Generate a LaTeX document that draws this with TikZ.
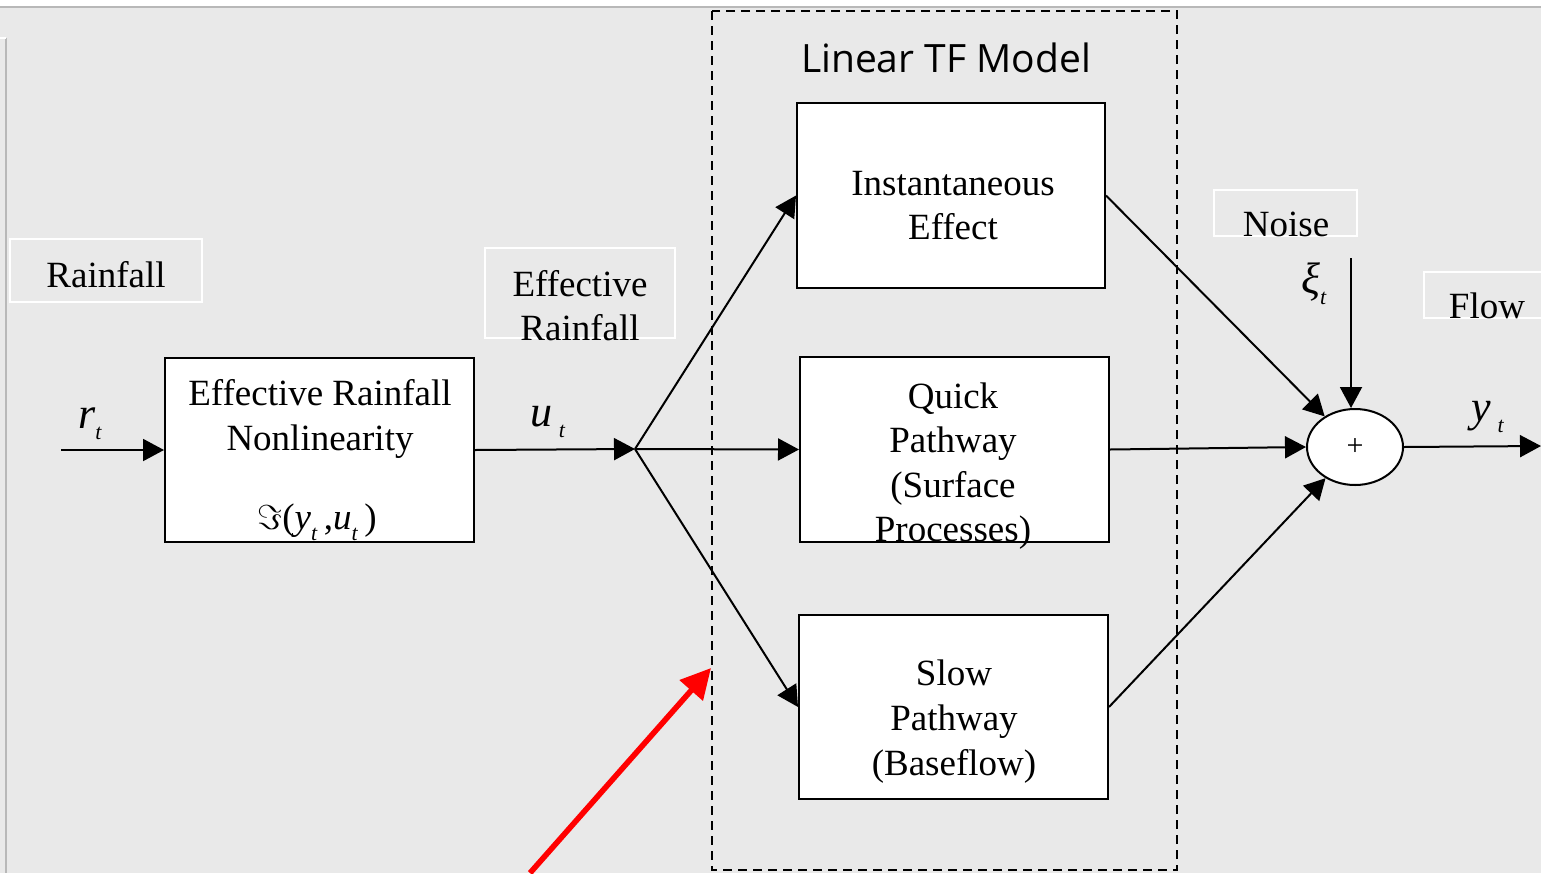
\documentclass[tikz,border=0pt]{standalone}
\usepackage{fontspec}
\setmainfont{Liberation Serif}
\newfontfamily\titlefont{Open Sans}
\usetikzlibrary{arrows.meta,shapes.geometric}
\definecolor{bgc}{RGB}{233,233,233}
\definecolor{rulec}{RGB}{184,184,184}
\newcommand\mysub[1]{\raisebox{-0.3em}{\fontsize{11}{11}\selectfont\textit{#1}}}
\newcommand\mvar[1]{{\fontsize{22}{22}\selectfont\textit{#1}}}
\tikzset{
  blk/.style={draw=black, line width=1pt, fill=white, inner sep=0pt},
  lbl/.style={draw=white, line width=0.8pt, inner sep=0pt},
  txt/.style={font=\fontsize{18.5}{22}\selectfont, inner sep=0pt, anchor=base},
  conn/.style={line width=1pt, -{Triangle[length=10.5pt,width=11pt]}},
  redarrow/.style={red, line width=2.8pt, -{Triangle[length=15pt,width=15pt]}},
}
\begin{document}
\begin{tikzpicture}[x=0.5pt,y=-0.5pt]
\useasboundingbox (0,0) rectangle (1541,873);
% background
\fill[white] (0,0) rectangle (1541,873);
\fill[bgc] (0,7) rectangle (1541,873);
\draw[rulec, line width=1pt] (0,6.5) -- (1541,6.5);
\draw[rulec, line width=1pt] (6,38) -- (6,873);
\draw[white, line width=1pt] (0,38) -- (6,38);

% dashed model frame
\draw[black, line width=0.7pt, dash pattern=on 4.5pt off 3pt] (712,11) rectangle (1177,870);
\node[inner sep=0pt, anchor=base, font=\titlefont\fontsize{19.5}{22}\selectfont] (title) at (946,72) {Linear TF Model};

% label boxes
\node[lbl, minimum width=96pt, minimum height=31.5pt] (rainlbl) at (106,270.5) {};
\node[lbl, minimum width=95pt, minimum height=45pt] (efflbl) at (580,293) {};
\node[lbl, minimum width=71.5pt, minimum height=23pt] (noiselbl) at (1285.5,213) {};
\node[lbl, minimum width=62pt, minimum height=23pt] (flowlbl) at (1486,295) {};

\node[txt] (raintxt) at (106,287) {Rainfall};
\node[txt] (efftxt1) at (580,296) {Effective};
\node[txt] (efftxt2) at (580,340) {Rainfall};
\node[txt] (noisetxt) at (1286,236) {Noise};
\node[txt] (flowtxt) at (1487,318) {Flow};

% blocks
\node[blk, minimum width=154.5pt, minimum height=92pt] (enl) at (319.5,450) {};
\node[blk, minimum width=154pt, minimum height=92.5pt] (inst) at (951,195.5) {};
\node[blk, minimum width=154.5pt, minimum height=92.5pt] (quick) at (954.5,449.5) {};
\node[blk, minimum width=154.5pt, minimum height=92pt] (slow) at (953.5,707) {};
\node[blk, ellipse, minimum width=48pt, minimum height=38pt] (sum) at (1355,447) {};

% block texts
\node[txt] (enlt1) at (320,405) {Effective Rainfall};
\node[txt] (enlt2) at (320,450) {Nonlinearity};
\node[txt] (enlt3) at (317,529) {$\Im$(\textit{y}\mysub{t}\,,\textit{u}\mysub{t}\,)};
\node[txt] (instt1) at (953,195) {Instantaneous};
\node[txt] (instt2) at (953,239) {Effect};
\node[txt] (quickt1) at (953,408) {Quick};
\node[txt] (quickt2) at (953,452) {Pathway};
\node[txt] (quickt3) at (953,497) {(Surface};
\node[txt] (quickt4) at (953,541) {Processes)};
\node[txt] (slowt1) at (954,685) {Slow};
\node[txt] (slowt2) at (954,730) {Pathway};
\node[txt] (slowt3) at (954,775) {(Baseflow)};
\node[inner sep=0pt, anchor=center, font=\fontsize{15}{15}\selectfont] (plus) at (sum.center) {+};

% math labels
\node[txt] (rlab) at (90,428) {\mvar{r}\mysub{t}};
\node[txt] (ulab) at (548,426) {\mvar{u}\,\mysub{t}};
\node[txt] (xilab) at (1314,293) {\mvar{ξ}\mysub{t}};
\node[txt] (ylab) at (1488,421) {\mvar{y}\,\mysub{t}};

% connectors
\coordinate (rin) at (61,450);
\coordinate (j) at (635,449);
\coordinate (nin) at (1351,258);
\coordinate (yout) at (1541,446);
\draw[conn] (rin) -- (enl.west);
\draw[conn] (enl.east) -- (j);
\draw[conn] (j) -- (inst.west);
\draw[conn] (j) -- (quick.west);
\draw[conn] (j) -- (slow.west);
\draw[conn] (inst.east) -- (sum);
\draw[conn] (quick.east) -- (sum.west);
\draw[conn] (slow.east) -- (sum);
\draw[conn] (nin) -- (sum.north -| nin);
\draw[conn] (sum.east) -- (yout);

% red pointer
\coordinate (redstart) at (530,873);
\coordinate (redend) at (711,668);
\draw[redarrow] (redstart) -- (redend);
\end{tikzpicture}
\end{document}
